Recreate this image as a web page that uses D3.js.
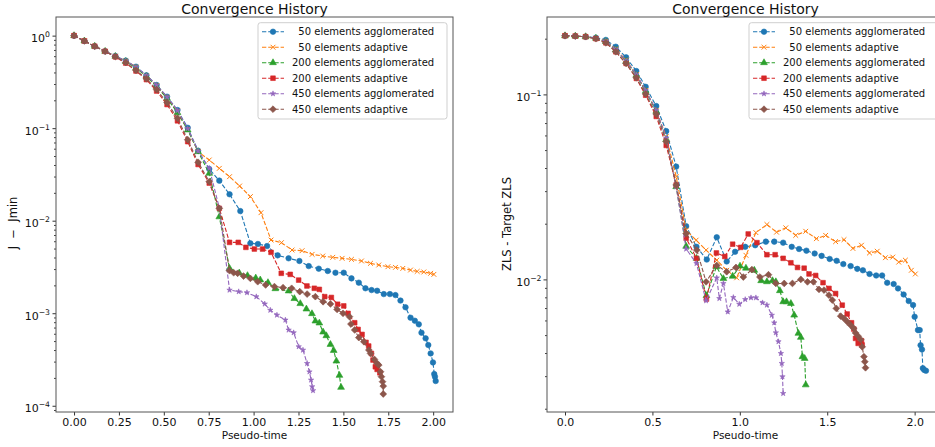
<!DOCTYPE html>
<html>
<head>
<meta charset="utf-8">
<script src="https://cdn.jsdelivr.net/npm/d3@7"></script>
<style>
  body { margin: 0; background: #fff; }
  svg { display: block; font-family: "DejaVu Sans", sans-serif; }
  .pre { white-space: pre; }
</style>
</head>
<body>
<div id="chart"></div>
<script>
// ---- data: [pseudo-time, value] ----
const seriesLabels = [
  "  50 elements agglomerated",
  "  50 elements adaptive",
  "200 elements agglomerated",
  "200 elements adaptive",
  "450 elements agglomerated",
  "450 elements adaptive"
];

// left panel: J - Jmin
const jAgg50 = [[0,1],[.0576,.876],[.115,.767],[.173,.677],[.23,.603],[.288,.537],[.345,.462],[.403,.373],[.46,.293],[.518,.219],[.576,.157],[.633,.101],[.691,.057],[.753,.0362],[.809,.0271],[.866,.0193],[.926,.0127],[.982,.00569],[1.024,.0056],[1.075,.00532],[1.134,.00422],[1.195,.00392],[1.255,.00367],[1.307,.00323],[1.363,.00303],[1.413,.00286],[1.456,.00274],[1.502,.00274],[1.545,.00238],[1.586,.00214],[1.623,.00186],[1.657,.00178],[1.688,.00175],[1.725,.00161],[1.759,.00161],[1.79,.00157],[1.818,.00137],[1.846,.00116],[1.874,.000895],[1.898,.00083],[1.92,.000758],[1.935,.000616],[1.958,.000535],[1.973,.000453],[1.986,.000368],[1.999,.000294],[2.006,.00022],[2.01,.000206],[2.014,.000185]];
const jAdapt50 = [[0,1],[.0576,.876],[.115,.767],[.173,.677],[.23,.6],[.288,.532],[.345,.455],[.403,.366],[.46,.288],[.518,.214],[.576,.153],[.633,.097],[.691,.0557],[.753,.0453],[.809,.0368],[.866,.0299],[.922,.0237],[.982,.0182],[1.041,.0122],[1.097,.00618],[1.155,.00579],[1.214,.00482],[1.27,.00474],[1.326,.00433],[1.385,.00415],[1.441,.00402],[1.493,.00392],[1.545,.00382],[1.601,.00367],[1.651,.00346],[1.697,.00332],[1.748,.00318],[1.79,.00313],[1.831,.00305],[1.874,.00293],[1.911,.00283],[1.948,.00279],[1.986,.0027],[2.004,.00263]];
const jAgg200 = [[0,1],[.0576,.876],[.115,.767],[.173,.677],[.23,.597],[.288,.525],[.345,.447],[.403,.362],[.46,.282],[.518,.21],[.576,.147],[.633,.0955],[.691,.0557],[.753,.0325],[.809,.011],[.866,.00305],[.92,.00272],[.966,.00255],[1.012,.0024],[1.037,.00229],[1.08,.00214],[1.121,.00184],[1.195,.00174],[1.227,.00144],[1.26,.00127],[1.294,.00111],[1.325,.000988],[1.344,.000823],[1.366,.000783],[1.387,.000626],[1.405,.000571],[1.428,.00046],[1.446,.000396],[1.461,.000304],[1.478,.000213],[1.487,.000158]];
const jAdapt200 = [[0,1],[.0576,.876],[.115,.767],[.173,.677],[.23,.59],[.288,.505],[.345,.415],[.403,.335],[.46,.252],[.518,.18],[.576,.12],[.633,.0715],[.691,.0405],[.753,.0255],[.809,.0136],[.866,.00583],[.9145,.00583],[.957,.00515],[1.004,.00494],[1.05,.00494],[1.097,.00455],[1.154,.0027],[1.204,.00263],[1.251,.00228],[1.297,.00197],[1.338,.00186],[1.366,.00181],[1.396,.00151],[1.433,.00148],[1.468,.00125],[1.502,.0012],[1.526,.000996],[1.563,.000789],[1.582,.000668],[1.604,.00059],[1.626,.000484],[1.641,.000442],[1.656,.000368],[1.665,.000312],[1.678,.000264],[1.688,.000247],[1.703,.000227]];
const jAgg450 = [[0,1],[.0576,.876],[.115,.767],[.173,.677],[.23,.6],[.288,.533],[.345,.458],[.403,.37],[.46,.291],[.518,.217],[.576,.155],[.633,.099],[.691,.0565],[.753,.0368],[.809,.0138],[.866,.00178],[.917,.00171],[.963,.00167],[1.015,.00151],[1.062,.00126],[1.093,.00108],[1.13,.000955],[1.177,.000845],[1.195,.000659],[1.223,.000616],[1.251,.000435],[1.275,.0004],[1.298,.000287],[1.311,.000233],[1.32,.00019],[1.326,.000161],[1.331,.000146]];
const jAdapt450 = [[0,1],[.0576,.876],[.115,.767],[.173,.677],[.23,.593],[.288,.511],[.345,.422],[.403,.343],[.46,.261],[.518,.189],[.576,.128],[.633,.0751],[.691,.0428],[.753,.0264],[.809,.0136],[.866,.00288],[.889,.00274],[.911,.0027],[.944,.00252],[.982,.00238],[1.023,.00219],[1.067,.00202],[1.116,.00194],[1.164,.00189],[1.212,.00186],[1.257,.00171],[1.298,.00161],[1.344,.00151],[1.387,.00133],[1.428,.00126],[1.465,.0011],[1.498,.000997],[1.534,.000918],[1.542,.000764],[1.563,.000659],[1.586,.000545],[1.614,.000492],[1.642,.0004],[1.651,.000368],[1.673,.000317],[1.688,.000287],[1.697,.000275],[1.707,.000233],[1.712,.000206],[1.718,.000182],[1.722,.000163],[1.722,.000134]];

// right panel: ZLS - Target ZLS
const zAgg50 = [[0,.2075],[.0589,.2065],[.1178,.205],[.1766,.2025],[.2336,.197],[.2906,.181],[.3495,.1585],[.408,.1337],[.4615,.1099],[.522,.0865],[.579,.0633],[.636,.0407],[.693,.0194],[.752,.015],[.811,.0128],[.868,.0169],[.925,.0125],[.973,.0141],[1.031,.015],[1.088,.0153],[1.149,.016],[1.197,.016],[1.248,.0158],[1.297,.015],[1.339,.0146],[1.381,.0143],[1.428,.0138],[1.468,.0134],[1.514,.0129],[1.554,.0126],[1.592,.0121],[1.634,.0118],[1.672,.0114],[1.704,.0112],[1.742,.0107],[1.78,.0105],[1.814,.0105],[1.843,.00959],[1.88,.00944],[1.905,.00894],[1.937,.00829],[1.966,.00764],[1.991,.00727],[2.0,.00628],[2.019,.00532],[2.029,.00532],[2.034,.00441],[2.042,.00418],[2.047,.00331],[2.055,.00324],[2.065,.00321]];
const zAdapt50 = [[0,.2075],[.0589,.2065],[.1178,.205],[.1766,.201],[.2336,.194],[.2906,.176],[.3495,.153],[.408,.128],[.4615,.105],[.522,.082],[.579,.059],[.636,.036],[.693,.01845],[.75,.0163],[.807,.0144],[.868,.0127],[.925,.0112],[.982,.0102],[1.035,.0135],[1.092,.0179],[1.155,.0198],[1.21,.018],[1.263,.019],[1.32,.0173],[1.377,.0182],[1.438,.0166],[1.491,.0173],[1.548,.016],[1.596,.0164],[1.647,.0147],[1.696,.0153],[1.742,.0139],[1.786,.0142],[1.833,.0131],[1.875,.0132],[1.909,.0124],[1.947,.0127],[1.981,.0112],[2.004,.0107]];
const zAgg200 = [[0,.2075],[.0589,.2065],[.1178,.205],[.1766,.201],[.2336,.193],[.2906,.174],[.3495,.151],[.408,.127],[.4615,.104],[.522,.081],[.579,.057],[.636,.0317],[.693,.0151],[.752,.013],[.809,.00817],[.866,.0117],[.906,.0101],[.959,.0104],[1.001,.0118],[1.035,.0115],[1.083,.0112],[1.122,.00984],[1.155,.00971],[1.187,.00984],[1.206,.00971],[1.229,.00869],[1.248,.00757],[1.267,.00757],[1.292,.00741],[1.311,.00641],[1.335,.00511],[1.349,.00486],[1.358,.00382],[1.371,.00374],[1.377,.00269]];
const zAdapt200 = [[0,.2075],[.0589,.2065],[.1178,.205],[.1766,.2],[.2336,.19],[.2906,.17],[.3495,.147],[.408,.122],[.4615,.099],[.522,.076],[.579,.053],[.636,.0324],[.693,.0167],[.752,.013],[.809,.00783],[.866,.0139],[.914,.0133],[.959,.0155],[1.005,.0149],[1.048,.0176],[1.098,.0158],[1.155,.0136],[1.202,.0136],[1.248,.013],[1.292,.0123],[1.33,.0116],[1.368,.0115],[1.396,.0107],[1.434,.0105],[1.476,.0096],[1.51,.00894],[1.548,.00839],[1.586,.00726],[1.614,.0065],[1.639,.00583],[1.652,.00539],[1.662,.0048],[1.677,.00451],[1.696,.00466],[1.7,.00442]];
const zAgg450 = [[0,.2075],[.0589,.2065],[.1178,.205],[.1766,.201],[.2336,.194],[.2906,.175],[.3495,.152],[.408,.128],[.4615,.105],[.522,.082],[.579,.058],[.636,.0317],[.693,.0146],[.752,.0122],[.807,.00767],[.868,.0102],[.883,.00789],[.906,.00951],[.931,.00668],[.963,.00799],[.997,.00735],[1.031,.00779],[1.064,.00796],[1.092,.00796],[1.13,.00748],[1.155,.00727],[1.183,.00641],[1.197,.00583],[1.206,.00515],[1.221,.00461],[1.235,.00398],[1.24,.00352],[1.244,.00298],[1.248,.00242]];
const zAdapt450 = [[0,.2075],[.0589,.2065],[.1178,.205],[.1766,.2],[.2336,.19],[.2906,.17],[.3495,.147],[.408,.123],[.4615,.1005],[.522,.0783],[.579,.0555],[.636,.0324],[.693,.0177],[.754,.0144],[.807,.0097],[.868,.0119],[.925,.011],[.978,.0116],[1.02,.0103],[1.069,.0113],[1.115,.0103],[1.164,.0106],[1.206,.00951],[1.254,.00951],[1.301,.00951],[1.349,.01],[1.387,.0097],[1.421,.0097],[1.453,.00883],[1.482,.00875],[1.51,.00822],[1.529,.00773],[1.552,.00697],[1.577,.00633],[1.596,.00615],[1.615,.0059],[1.634,.00566],[1.652,.00543],[1.662,.00514],[1.677,.00493],[1.691,.00473],[1.7,.00432],[1.71,.00382],[1.715,.00359],[1.719,.00333]];

// tick values
const leftXTicks = [0, 0.25, 0.5, 0.75, 1.0, 1.25, 1.5, 1.75, 2.0];
const rightXTicks = [0, 0.5, 1.0, 1.5, 2.0];
const leftYTicks = [1, 1e-1, 1e-2, 1e-3, 1e-4];
const rightYTicks = [1e-1, 1e-2];

// ---- styling ----
const colors = ["#1f77b4", "#ff7f0e", "#2ca02c", "#d62728", "#9467bd", "#8c564b"];
const markers = ["circle", "x", "triangle", "square", "star", "diamond"];

function markerPath(type) {
  switch (type) {
    case "circle": return d3.symbol(d3.symbolCircle, 24)();
    case "x": return "M-2.4,-2.4L2.4,2.4M-2.4,2.4L2.4,-2.4";
    case "triangle": return d3.symbol(d3.symbolTriangle, 20)();
    case "square": return d3.symbol(d3.symbolSquare, 22)();
    case "star": return d3.symbol(d3.symbolStar, 9)();
    case "diamond": return d3.symbol(d3.symbolSquare, 23)();
  }
}

class LogPanel {
  constructor({ parent, left, top, width, height }, series, opts) {
    this.parent = parent;
    this.margin = { left: left, top: top };
    this.width = width;
    this.height = height;
    this.series = series;
    this.opts = opts;
    this.initChart();
  }

  initChart() {
    let vis = this;
    vis.g = vis.parent.append("g")
      .attr("transform", "translate(" + vis.margin.left + "," + vis.margin.top + ")");

    vis.x = d3.scaleLinear().domain(vis.opts.xDomain).range([0, vis.width]);
    vis.y = d3.scaleLog().domain(vis.opts.yDomain).range([vis.height, 0]);

    vis.drawAxes();
    vis.drawSeries();
    vis.drawLegend();
  }

  drawAxes() {
    let vis = this;

    // X-axis
    const xg = vis.g.append("g")
      .attr("transform", "translate(0," + vis.height + ")")
      .call(d3.axisBottom(vis.x).tickValues(vis.opts.xTicks).tickSize(3.5).tickFormat(d3.format(vis.opts.xFormat)));
    xg.select(".domain").remove();
    xg.selectAll(".tick line").attr("stroke", "#333");
    xg.selectAll(".tick text")
      .attr("y", 13.5).attr("dy", null)
      .attr("font-size", 11).attr("font-family", "DejaVu Sans").attr("fill", "#111");

    // Y-axis, minor ticks
    const minors = vis.y.ticks().filter(v => Math.abs(Math.log10(v) - Math.round(Math.log10(v))) > 1e-6);
    const ymg = vis.g.append("g")
      .call(d3.axisLeft(vis.y).tickValues(minors).tickSize(2).tickFormat(""));
    ymg.select(".domain").remove();
    ymg.selectAll(".tick line").attr("stroke", "#444");

    // Y-axis, majors with 10^n labels
    const yg = vis.g.append("g")
      .call(d3.axisLeft(vis.y).tickValues(vis.opts.yTicks).tickSize(3.5));
    yg.select(".domain").remove();
    yg.selectAll(".tick line").attr("stroke", "#333");
    yg.selectAll(".tick text").each(function(d) {
      const e = Math.round(Math.log10(d));
      const t = d3.select(this).text("")
        .attr("x", vis.opts.yLabelX).attr("y", 6).attr("dy", null)
        .attr("font-size", 11).attr("font-family", "DejaVu Sans").attr("fill", "#111");
      t.append("tspan").text("10");
      t.append("tspan").attr("dy", -5).attr("font-size", 7.7)
        .text(e < 0 ? "\u2212" + (-e) : String(e));
    });

    // frame
    vis.g.append("rect")
      .attr("width", vis.width).attr("height", vis.height)
      .attr("fill", "none").attr("stroke", "#555").attr("stroke-width", 1);

    // title
    vis.g.append("text")
      .attr("x", vis.width / 2).attr("y", -3.5)
      .attr("text-anchor", "middle").attr("font-size", 14).attr("fill", "#111")
      .text("Convergence History");

    // X-axis label
    vis.g.append("text")
      .attr("x", vis.width / 2).attr("y", vis.height + 26.5)
      .attr("text-anchor", "middle").attr("font-size", 10.5).attr("fill", "#111")
      .text("Pseudo-time");

    // Y-axis label
    vis.g.append("text")
      .attr("class", "pre")
      .attr("transform", "translate(" + vis.opts.yTitleX + "," + vis.opts.yTitleY + ") rotate(-90)")
      .attr("text-anchor", "middle").attr("font-size", 11.5).attr("fill", "#111")
      .text(vis.opts.yTitle);
  }

  drawMarker(sel, i) {
    const type = markers[i];
    if (type === "x") {
      sel.attr("d", markerPath(type)).attr("fill", "none").attr("stroke", colors[i]).attr("stroke-width", 1);
    } else {
      sel.attr("d", markerPath(type)).attr("fill", colors[i]).attr("stroke", colors[i]).attr("stroke-width", 0.6);
    }
  }

  drawSeries() {
    let vis = this;
    const line = d3.line().x(d => vis.x(d[0])).y(d => vis.y(d[1]));

    vis.series.forEach((data, i) => {
      const sg = vis.g.append("g");
      sg.append("path")
        .datum(data)
        .attr("d", line)
        .attr("fill", "none")
        .attr("stroke", colors[i])
        .attr("stroke-width", 1.1)
        .attr("stroke-dasharray", "4.3,1.9");

      sg.selectAll(".pt")
        .data(data)
        .join("path")
        .attr("class", "pt")
        .attr("transform", d => "translate(" + vis.x(d[0]) + "," + vis.y(d[1]) + ")" + (markers[i] === "diamond" ? " rotate(45)" : ""))
        .call(s => vis.drawMarker(s, i));
    });
  }

  drawLegend() {
    let vis = this;
    const lg = vis.g.append("g").attr("transform", "translate(202,5.7)");
    lg.append("rect")
      .attr("width", 189).attr("height", 96.3).attr("rx", 2.5)
      .attr("fill", "#fff").attr("fill-opacity", 0.8)
      .attr("stroke", "#cfcfcf").attr("stroke-width", 1);

    seriesLabels.forEach((label, i) => {
      const cy = 9 + i * 15.5;
      lg.append("line")
        .attr("x1", 4).attr("x2", 26).attr("y1", cy).attr("y2", cy)
        .attr("stroke", colors[i]).attr("stroke-width", 1.1)
        .attr("stroke-dasharray", "4.3,1.9");
      lg.append("path")
        .attr("transform", "translate(15," + cy + ")" + (markers[i] === "diamond" ? " rotate(45)" : ""))
        .call(s => vis.drawMarker(s, i));
      lg.append("text")
        .attr("class", "pre")
        .attr("x", 34).attr("y", cy + 3.6)
        .attr("font-size", 10).attr("fill", "#111")
        .text(label);
    });
  }
}

const svg = d3.select("#chart").append("svg")
  .attr("width", 935)
  .attr("height", 447);

new LogPanel({ parent: svg, left: 56, top: 17, width: 397, height: 395 },
  [jAgg50, jAdapt50, jAgg200, jAdapt200, jAgg450, jAdapt450],
  {
    xDomain: [-0.1005, 2.1105], yDomain: [8.56e-5, 1.59],
    xTicks: leftXTicks, xFormat: ".2f", yTicks: leftYTicks,
    yLabelX: -6, yTitle: "J  \u2212  Jmin", yTitleX: -39, yTitleY: 206
  });

new LogPanel({ parent: svg, left: 547, top: 17, width: 397, height: 395 },
  [zAgg50, zAdapt50, zAgg200, zAdapt200, zAgg450, zAdapt450],
  {
    xDomain: [-0.103, 2.168], yDomain: [0.00192, 0.262],
    xTicks: rightXTicks, xFormat: ".1f", yTicks: rightYTicks,
    yLabelX: -5.5, yTitle: "ZLS - Target ZLS", yTitleX: -36, yTitleY: 207
  });
</script>
</body>
</html>
